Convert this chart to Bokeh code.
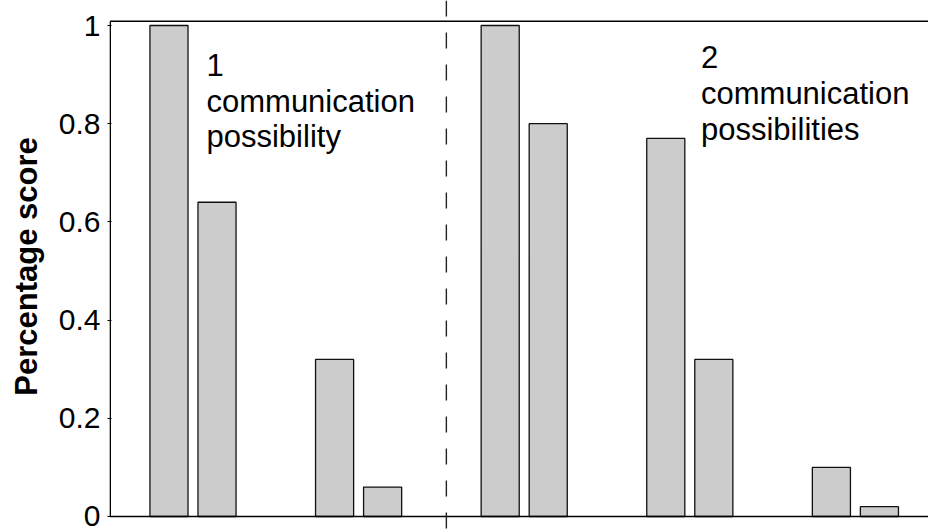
from bokeh.plotting import figure
from bokeh.models import Span, Label, Range1d, FixedTicker, ColumnDataSource
from bokeh.embed import file_html
from bokeh.resources import INLINE

# ---- data ----
group_pos = [1, 2, 3, 4, 5]
series_a = [1.00, 0.32, 1.00, 0.77, 0.10]
series_b = [0.64, 0.06, 0.80, 0.32, 0.02]
y_ticks = [0, 0.2, 0.4, 0.6, 0.8, 1]
y_tick_labels = {0: "0", 0.2: "0.2", 0.4: "0.4", 0.6: "0.6", 0.8: "0.8", 1: "1"}
divider_x = 2.53
label_left = "1\ncommunication\npossibility"
label_right = "2\ncommunication\npossibilities"

FONT = "Liberation Sans"
offset = 0.145
bar_w = 0.23

p = figure(width=928, height=532, output_backend="svg", toolbar_location=None,
           x_range=Range1d(0.4958, 5.4414), y_range=Range1d(-0.03259, 1.05092),
           min_border_left=109, min_border_right=0, min_border_top=0, min_border_bottom=0)
p.outline_line_color = None
p.xgrid.visible = False
p.ygrid.visible = False
p.xaxis.visible = False
p.background_fill_color = "white"
p.border_fill_color = "white"

src = ColumnDataSource(dict(xa=[g - offset for g in group_pos], a=series_a,
                            xb=[g + offset for g in group_pos], b=series_b))
p.vbar(x="xa", top="a", bottom=0, width=bar_w, source=src,
       fill_color="#cccccc", line_color="#111111", line_width=1.3)
p.vbar(x="xb", top="b", bottom=0, width=bar_w, source=src,
       fill_color="#cccccc", line_color="#111111", line_width=1.3)

# frame lines (left, bottom, top)
y_top = 1.0088
p.segment(x0=[0.5, 0.5, 0.5], y0=[0, 0, y_top], x1=[0.5, 5.6, 5.6], y1=[y_top, 0, y_top],
          line_color="black", line_width=1.6)

p.add_layout(Span(location=divider_x, dimension="height", line_color="#222222",
                  line_width=1.4, line_dash="16 16"))

yax = p.yaxis[0]
yax.ticker = FixedTicker(ticks=y_ticks)
yax.major_label_overrides = y_tick_labels
yax.axis_line_color = None
yax.major_tick_out = 2
yax.major_tick_in = 2
yax.minor_tick_line_color = None
yax.major_tick_line_color = "black"
yax.major_label_standoff = 7
yax.major_label_text_font = FONT
yax.major_label_text_font_size = "30px"
yax.major_label_text_color = "black"
yax.axis_label = "Percentage score"
yax.axis_label_text_font = FONT
yax.axis_label_text_font_size = "31px"
yax.axis_label_text_font_style = "bold"
yax.axis_label_text_color = "black"
yax.axis_label_standoff = 12

for txt, xx, yy in [(label_left, 1.0815, 0.954), (label_right, 4.0676, 0.970)]:
    p.add_layout(Label(x=xx, y=yy, text=txt, text_font=FONT, text_font_size="31px",
                       text_color="black", text_baseline="top", text_align="left",
                       text_line_height=1.02))

open("out.html", "w").write(file_html(p, INLINE))
